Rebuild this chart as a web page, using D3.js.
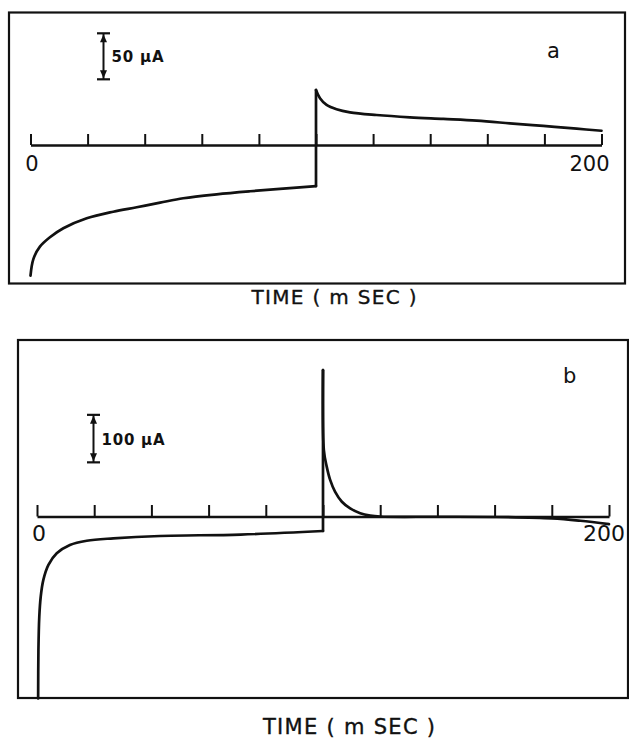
<!DOCTYPE html>
<html>
<head>
<meta charset="utf-8">
<script src="https://cdn.jsdelivr.net/npm/d3@7"></script>
<style>
  html, body { margin: 0; padding: 0; background: #ffffff; }
  svg { display: block; }
  text { font-family: "DejaVu Sans", "Liberation Sans", sans-serif; fill: #111; }
</style>
</head>
<body>
<script>
// ---------- data ----------
const timeTicks = [0, 20, 40, 60, 80, 100, 120, 140, 160, 180, 200];
const timeTickLabels = ["0", "200"];
const axisTitle = "TIME ( m SEC )";

// panel a : time (ms) and current (µA)
const timeA = [0, 1.0, 3.3, 6.8, 11.5, 19.7, 29, 37.2, 45.4, 53.5, 65.2, 76.9, 88.5, 100,
               100, 101.4, 103.7, 107.2, 111.9, 121.2, 132.9, 144.6, 156.3, 167.9, 179.6, 191.3, 200];
const currentA = [-142, -124, -110.5, -100.3, -90.5, -79.7, -72.5, -67.7, -62.7, -57.9, -53.6, -50.3, -47.5, -44.6,
                  59.8, 50.8, 43.5, 38.8, 35.5, 32.6, 30.1, 28.3, 26.4, 23.6, 20.7, 17.7, 15.5];
const scaleBarA = 50;        // µA
const scaleLabelA = "50 µA";
const panelLabelA = "a";

// panel b : time (ms) and current (µA)
const timeB = [0.4, 0.5, 0.8, 1.3, 2.2, 4.0, 6.9, 11.5, 17.4, 26.7, 43, 71.2, 100,
               100, 100.3, 101.3, 102.5, 104.2, 106.6, 109.5, 113, 116.5, 120, 140, 160, 180, 190, 200];
const currentB = [-383, -281, -211, -169, -134, -102, -77.5, -60, -51, -46, -41, -38, -30.5,
                  308, 140, 105, 77, 52.4, 31, 17, 7, 2, 0, -0.5, -1, -4, -9, -16];
const scaleBarB = 100;       // µA
const scaleLabelB = "100 µA";
const panelLabelB = "b";

// ---------- drawing ----------
const W = 629, H = 741;
const svg = d3.select("body").append("svg").attr("width", W).attr("height", H);
const ink = "#111";

function drawPanel(cfg) {
  const g = svg.append("g");
  g.append("rect")
    .attr("x", cfg.frame[0]).attr("y", cfg.frame[1])
    .attr("width", cfg.frame[2]).attr("height", cfg.frame[3])
    .attr("fill", "none").attr("stroke", ink).attr("stroke-width", 2.2);

  const x = d3.scaleLinear().domain([0, 200]).range(cfg.xRange);
  const y = d3.scaleLinear().domain([0, 100]).range([cfg.axisY, cfg.axisY - 100 * cfg.pxPerUA]);

  const axis = d3.axisTop(x).tickValues(timeTicks).tickSize(cfg.tickLen).tickSizeOuter(0).tickFormat("");
  const ag = g.append("g").attr("transform", `translate(0,${cfg.axisY})`).call(axis);
  ag.selectAll("path.domain").attr("stroke", ink).attr("stroke-width", 2.4);
  ag.selectAll(".tick line").attr("stroke", ink).attr("stroke-width", 2);

  g.append("text").attr("x", x(0) + cfg.label0dx).attr("y", cfg.tickLabelY)
    .attr("text-anchor", "middle").attr("font-size", cfg.tickFont).text(timeTickLabels[0]);
  g.append("text").attr("x", x(200) + cfg.label200dx).attr("y", cfg.tickLabelY)
    .attr("text-anchor", "middle").attr("font-size", cfg.tickFont).text(timeTickLabels[1]);

  const pts = cfg.time.map((t, i) => [t, cfg.current[i]]);
  const runs = [];
  let cur = [pts[0]];
  for (let i = 1; i < pts.length; i++) {
    if (pts[i][0] > pts[i - 1][0]) cur.push(pts[i]);
    else { runs.push(cur); cur = [pts[i]]; }
  }
  runs.push(cur);
  const line = d3.line().x(d => x(d[0])).y(d => y(d[1])).curve(d3.curveCatmullRom.alpha(0.5));
  const straight = d3.line().x(d => x(d[0])).y(d => y(d[1]));
  runs.forEach((r, i) => {
    g.append("path").attr("d", line(r)).attr("fill", "none").attr("stroke", ink)
      .attr("stroke-width", 2.7).attr("stroke-linejoin", "round").attr("stroke-linecap", "round");
    if (i > 0) {
      const prev = runs[i - 1];
      g.append("path").attr("d", straight([prev[prev.length - 1], r[0]])).attr("fill", "none")
        .attr("stroke", ink).attr("stroke-width", 2.7).attr("stroke-linecap", "round");
    }
  });

  const sb = g.append("g");
  const yb = y(cfg.barBase), yt = y(cfg.barBase + cfg.bar);
  const bx = cfg.barX, cap = 6.5;
  sb.append("line").attr("x1", bx).attr("x2", bx).attr("y1", yt).attr("y2", yb)
    .attr("stroke", ink).attr("stroke-width", 2);
  [yt, yb].forEach(yy => sb.append("line").attr("x1", bx - cap).attr("x2", bx + cap)
    .attr("y1", yy).attr("y2", yy).attr("stroke", ink).attr("stroke-width", 2.2));
  sb.append("path").attr("d", `M${bx},${yt + 1} L${bx - 3.5},${yt + 9} L${bx + 3.5},${yt + 9} Z`).attr("fill", ink);
  sb.append("path").attr("d", `M${bx},${yb - 1} L${bx - 3.5},${yb - 9} L${bx + 3.5},${yb - 9} Z`).attr("fill", ink);
  g.append("text").attr("x", bx + 8).attr("y", (yt + yb) / 2 + 6)
    .attr("font-size", cfg.barFont).attr("font-weight", "bold")
    .attr("textLength", cfg.barTextLen).attr("lengthAdjust", "spacing")
    .text(cfg.barLabel);

  g.append("text").attr("x", cfg.letterPos[0]).attr("y", cfg.letterPos[1])
    .attr("text-anchor", "middle").attr("font-size", 21).text(cfg.letter);

  g.append("text").attr("x", cfg.titlePos[0]).attr("y", cfg.titlePos[1])
    .attr("text-anchor", "middle").attr("font-size", cfg.titleFont)
    .attr("stroke", ink).attr("stroke-width", 0.35)
    .attr("textLength", cfg.titleLen).attr("lengthAdjust", "spacing")
    .text(axisTitle);
}

drawPanel({
  frame: [9, 12.5, 616, 271],
  xRange: [30.5, 601.5], axisY: 145, pxPerUA: 0.92, tickLen: 11,
  time: timeA, current: currentA,
  tickLabelY: 171, tickFont: 21, label0dx: 1.5, label200dx: -12,
  bar: scaleBarA, barBase: 71.4, barX: 103.5, barLabel: scaleLabelA, barFont: 15, barTextLen: 52,
  letter: panelLabelA, letterPos: [553.5, 58],
  titlePos: [334, 303.5], titleFont: 20, titleLen: 165
});

drawPanel({
  frame: [18, 340, 610, 358],
  xRange: [37, 609], axisY: 516.5, pxPerUA: 0.475, tickLen: 11.5,
  time: timeB, current: currentB,
  tickLabelY: 541, tickFont: 22, label0dx: 2, label200dx: -5,
  bar: scaleBarB, barBase: 114, barX: 93.5, barLabel: scaleLabelB, barFont: 15, barTextLen: 63,
  letter: panelLabelB, letterPos: [569.6, 383],
  titlePos: [349, 734], titleFont: 21, titleLen: 172
});
</script>
</body>
</html>
